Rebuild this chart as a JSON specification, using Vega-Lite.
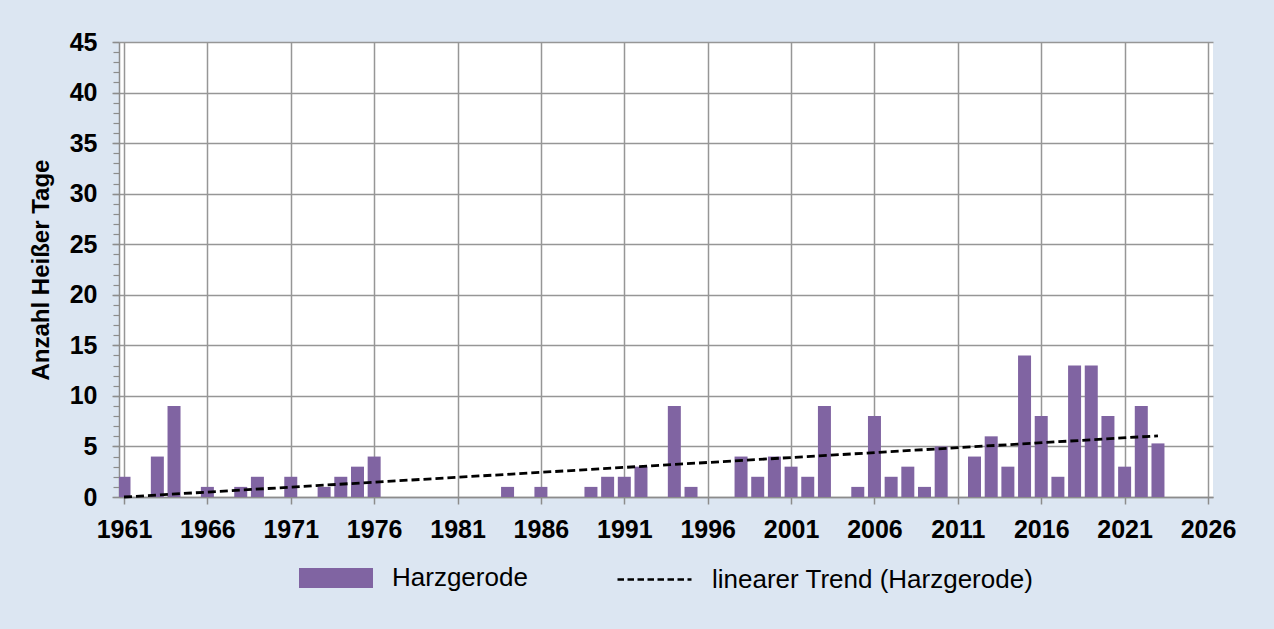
{
  "$schema": "https://vega.github.io/schema/vega-lite/v6.json",
  "width": 1094,
  "height": 455,
  "autosize": {"type": "none"},
  "padding": {"left": 119, "top": 42, "right": 61, "bottom": 132},
  "background": "#DCE6F2",
  "config": {
    "font": "Liberation Sans",
    "view": {"fill": "#FFFFFF", "stroke": null},
    "legend": {"layout": {"bottom": {"anchor": "middle", "direction": "horizontal", "margin": 88}}},
    "axis": {
      "domainColor": "#8C8C8C",
      "domainWidth": 1.5,
      "tickColor": "#8C8C8C",
      "tickWidth": 1.5,
      "gridColor": "#969696",
      "gridWidth": 1.5,
      "gridOpacity": 1,
      "labelColor": "#000000",
      "labelFont": "Liberation Sans",
      "labelFontWeight": "bold",
      "labelFontSize": 25,
      "labelFlush": false,
      "labelOverlap": false,
      "labelBound": false
    }
  },
  "datasets": {
    "tage": [
      {"jahr": 1961, "anzahl": 2, "serie": "Harzgerode"},
      {"jahr": 1963, "anzahl": 4, "serie": "Harzgerode"},
      {"jahr": 1964, "anzahl": 9, "serie": "Harzgerode"},
      {"jahr": 1966, "anzahl": 1, "serie": "Harzgerode"},
      {"jahr": 1968, "anzahl": 1, "serie": "Harzgerode"},
      {"jahr": 1969, "anzahl": 2, "serie": "Harzgerode"},
      {"jahr": 1971, "anzahl": 2, "serie": "Harzgerode"},
      {"jahr": 1973, "anzahl": 1, "serie": "Harzgerode"},
      {"jahr": 1974, "anzahl": 2, "serie": "Harzgerode"},
      {"jahr": 1975, "anzahl": 3, "serie": "Harzgerode"},
      {"jahr": 1976, "anzahl": 4, "serie": "Harzgerode"},
      {"jahr": 1984, "anzahl": 1, "serie": "Harzgerode"},
      {"jahr": 1986, "anzahl": 1, "serie": "Harzgerode"},
      {"jahr": 1989, "anzahl": 1, "serie": "Harzgerode"},
      {"jahr": 1990, "anzahl": 2, "serie": "Harzgerode"},
      {"jahr": 1991, "anzahl": 2, "serie": "Harzgerode"},
      {"jahr": 1992, "anzahl": 3, "serie": "Harzgerode"},
      {"jahr": 1994, "anzahl": 9, "serie": "Harzgerode"},
      {"jahr": 1995, "anzahl": 1, "serie": "Harzgerode"},
      {"jahr": 1998, "anzahl": 4, "serie": "Harzgerode"},
      {"jahr": 1999, "anzahl": 2, "serie": "Harzgerode"},
      {"jahr": 2000, "anzahl": 4, "serie": "Harzgerode"},
      {"jahr": 2001, "anzahl": 3, "serie": "Harzgerode"},
      {"jahr": 2002, "anzahl": 2, "serie": "Harzgerode"},
      {"jahr": 2003, "anzahl": 9, "serie": "Harzgerode"},
      {"jahr": 2005, "anzahl": 1, "serie": "Harzgerode"},
      {"jahr": 2006, "anzahl": 8, "serie": "Harzgerode"},
      {"jahr": 2007, "anzahl": 2, "serie": "Harzgerode"},
      {"jahr": 2008, "anzahl": 3, "serie": "Harzgerode"},
      {"jahr": 2009, "anzahl": 1, "serie": "Harzgerode"},
      {"jahr": 2010, "anzahl": 5, "serie": "Harzgerode"},
      {"jahr": 2012, "anzahl": 4, "serie": "Harzgerode"},
      {"jahr": 2013, "anzahl": 6, "serie": "Harzgerode"},
      {"jahr": 2014, "anzahl": 3, "serie": "Harzgerode"},
      {"jahr": 2015, "anzahl": 14, "serie": "Harzgerode"},
      {"jahr": 2016, "anzahl": 8, "serie": "Harzgerode"},
      {"jahr": 2017, "anzahl": 2, "serie": "Harzgerode"},
      {"jahr": 2018, "anzahl": 13, "serie": "Harzgerode"},
      {"jahr": 2019, "anzahl": 13, "serie": "Harzgerode"},
      {"jahr": 2020, "anzahl": 8, "serie": "Harzgerode"},
      {"jahr": 2021, "anzahl": 3, "serie": "Harzgerode"},
      {"jahr": 2022, "anzahl": 9, "serie": "Harzgerode"},
      {"jahr": 2023, "anzahl": 5.3, "serie": "Harzgerode"}
    ],
    "trend": [
      {"jahr": 1961, "wert": 0.0, "serie": "linearer Trend (Harzgerode)"},
      {"jahr": 2023, "wert": 6.05, "serie": "linearer Trend (Harzgerode)"}
    ]
  },
  "resolve": {"axis": {"y": "independent"}},
  "layer": [
    {
      "data": {"name": "tage"},
      "mark": {
        "type": "bar",
        "width": 13,
        "clip": true
      },
      "encoding": {
        "x": {
          "field": "jahr",
          "type": "quantitative",
          "scale": {"domain": [1961, 2026], "nice": false, "zero": false},
          "axis": {
            "title": null,
            "values": [1961, 1966, 1971, 1976, 1981, 1986, 1991, 1996, 2001, 2006, 2011, 2016, 2021, 2026],
            "format": "d",
            "tickSize": 7,
            "labelPadding": 13
          }
        },
        "y": {
          "field": "anzahl",
          "type": "quantitative",
          "scale": {"domain": [0, 45], "nice": false},
          "axis": {
            "orient": "left",
            "title": "Anzahl Heißer Tage",
            "titleFont": "Liberation Sans",
            "titleFontWeight": "bold",
            "titleFontSize": 24,
            "titleColor": "#000000",
            "titlePadding": 16,
            "values": [0, 5, 10, 15, 20, 25, 30, 35, 40, 45],
            "tickSize": 7,
            "labelPadding": 15
          }
        },
        "fill": {
          "field": "serie",
          "type": "nominal",
          "scale": {"domain": ["Harzgerode"], "range": ["#8064A2"]},
          "legend": {
            "title": null,
            "orient": "bottom",
            "direction": "horizontal",
            "offset": -1,
            "padding": 0,
            "symbolType": "M-1,-0.27L1,-0.27L1,0.27L-1,0.27Z",
            "symbolSize": 5476,
            "symbolStrokeWidth": 0,
            "symbolOpacity": 1,
            "labelFont": "Liberation Sans",
            "labelFontSize": 26,
            "labelFontWeight": "normal",
            "labelColor": "#000000",
            "labelOffset": 19,
            "labelLimit": 500
          }
        }
      }
    },
    {
      "data": {"name": "trend"},
      "mark": {"type": "line", "strokeDash": [8, 4], "strokeWidth": 2.8},
      "encoding": {
        "x": {"field": "jahr", "type": "quantitative"},
        "y": {
          "field": "wert",
          "type": "quantitative",
          "scale": {"domain": [0, 45], "nice": false},
          "axis": {
            "orient": "left",
            "title": null,
            "values": [0, 1, 2, 3, 4, 5, 6, 7, 8, 9, 10, 11, 12, 13, 14, 15, 16, 17, 18, 19, 20, 21, 22, 23, 24, 25, 26, 27, 28, 29, 30, 31, 32, 33, 34, 35, 36, 37, 38, 39, 40, 41, 42, 43, 44, 45],
            "labels": false,
            "grid": false,
            "domain": false,
            "tickSize": 6,
            "tickWidth": 1.2
          }
        },
        "stroke": {
          "field": "serie",
          "type": "nominal",
          "scale": {"domain": ["linearer Trend (Harzgerode)"], "range": ["#000000"]},
          "legend": {
            "title": null,
            "orient": "bottom",
            "direction": "horizontal",
            "offset": -1,
            "padding": 0,
            "symbolType": "stroke",
            "symbolSize": 5476,
            "symbolDash": [6.5, 3.5],
            "symbolStrokeWidth": 2.5,
            "symbolOpacity": 1,
            "labelFont": "Liberation Sans",
            "labelFontSize": 26,
            "labelFontWeight": "normal",
            "labelColor": "#000000",
            "labelOffset": 19,
            "labelLimit": 500
          }
        }
      }
    }
  ]
}
